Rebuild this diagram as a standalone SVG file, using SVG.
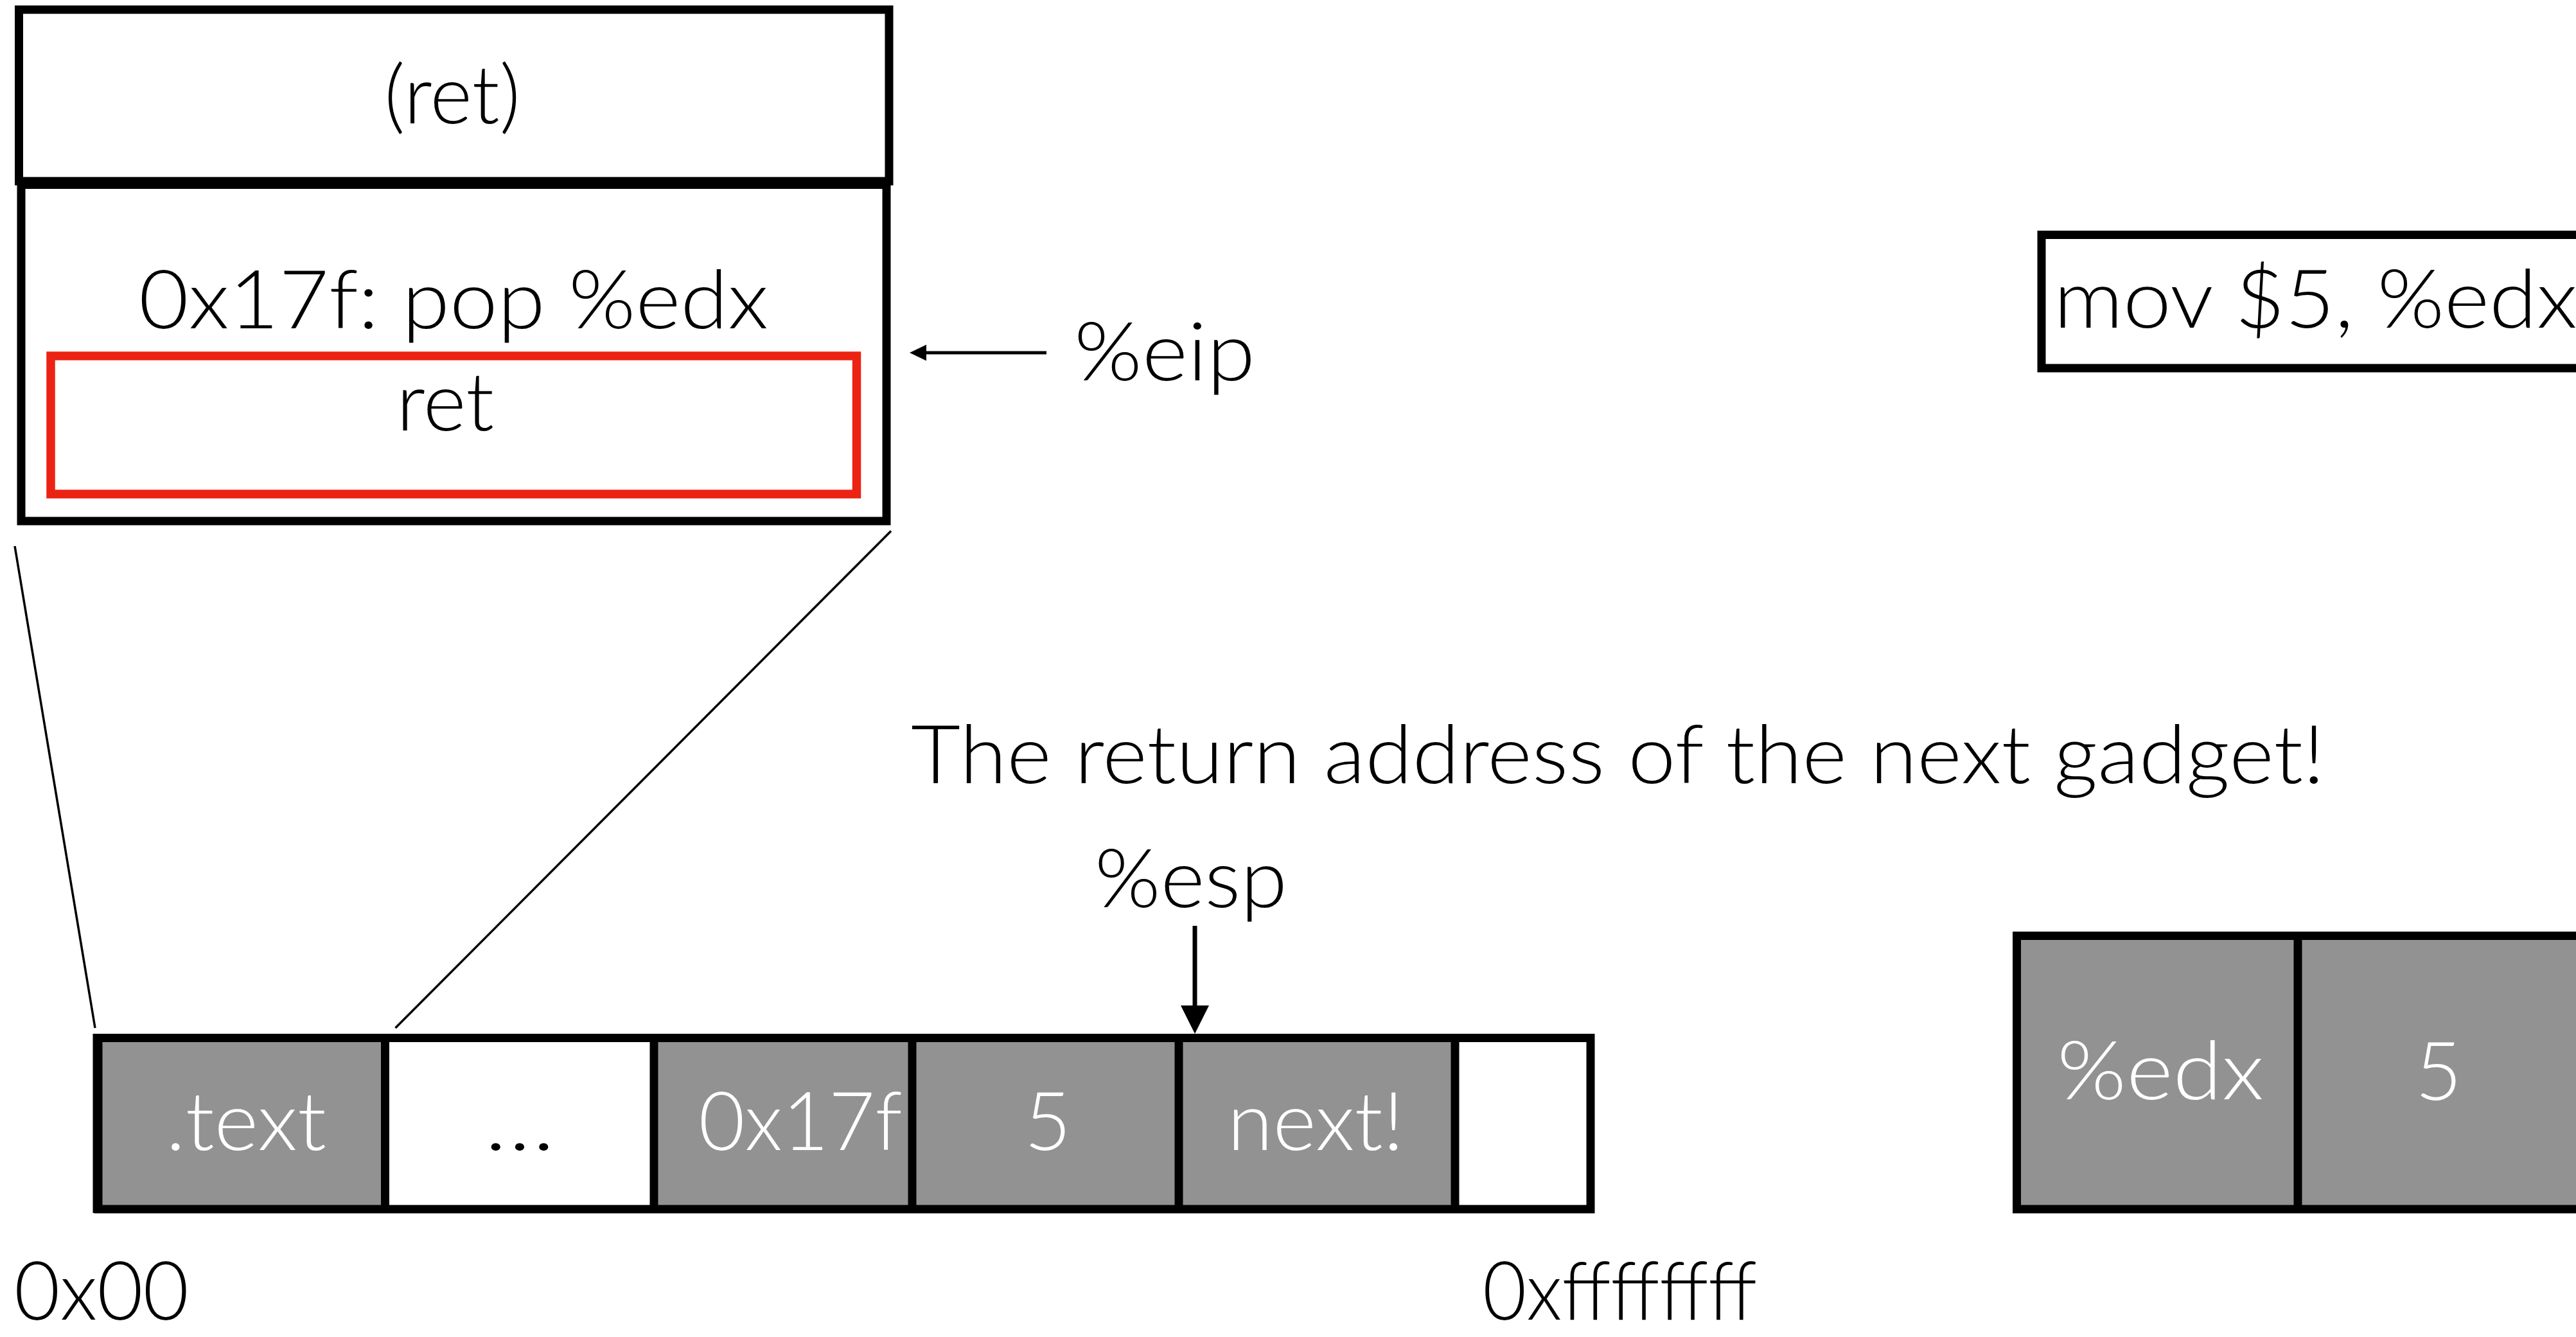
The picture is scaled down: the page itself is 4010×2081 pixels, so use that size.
<svg xmlns="http://www.w3.org/2000/svg" width="4010" height="2081" viewBox="0 0 4010 2081">
<style>
  .t { font-family: "Lato", "Inter", "Open Sans", "Liberation Sans", sans-serif; font-weight: 300; font-size: 126px; fill: #000; }
  .w { fill: #ffffff; }
  .box { fill: #ffffff; stroke: #000; stroke-width: 13; }
  .cell { fill: #929292; stroke: none; }
  .div { stroke: #000; stroke-width: 13; }
  .outline { fill: none; stroke: #000; stroke-width: 13; }
  .zoomline { stroke: #000; stroke-width: 3.5; fill: none; }
</style>
<rect x="0" y="0" width="4010" height="2081" fill="#ffffff"/>

<g id="instr-ret-box">
  <rect class="box" x="29.5" y="15" width="1354.5" height="267" stroke-width="14"/>
  <text class="t" x="704" y="192" text-anchor="middle" textLength="212" lengthAdjust="spacingAndGlyphs">(ret)</text>
</g>

<g id="gadget-box">
  <rect class="box" x="33" y="287.5" width="1347" height="523.5"/>
  <text class="t" x="706" y="511" text-anchor="middle" textLength="980" lengthAdjust="spacingAndGlyphs">0x17f: pop %edx</text>
  <rect x="79" y="554" width="1254.5" height="215" fill="none" stroke="#EC2312" stroke-width="13.5"/>
  <text class="t" x="693" y="670" text-anchor="middle" textLength="152" lengthAdjust="spacingAndGlyphs">ret</text>
</g>

<g id="eip-label">
  <text class="t" x="1672" y="592" textLength="282" lengthAdjust="spacingAndGlyphs">%eip</text>
</g>

<g id="mov-box">
  <rect class="box" x="3178" y="365.5" width="900" height="207.5" stroke-width="11"/>
  <text class="t" x="3197" y="510" textLength="815" lengthAdjust="spacingAndGlyphs">mov $5, %edx</text>
</g>

<g id="note">
  <text class="t" x="1418" y="1219" textLength="2201" lengthAdjust="spacingAndGlyphs">The return address of the next gadget!</text>
</g>

<g id="esp-label">
  <text class="t" x="1704" y="1412" textLength="300" lengthAdjust="spacingAndGlyphs">%esp</text>
</g>

<g id="stack">
  <rect class="cell" x="152" y="1615" width="448" height="267"/>
  <rect x="600" y="1615" width="418" height="267" fill="#ffffff"/>
  <rect class="cell" x="1018" y="1615" width="1247" height="267"/>
  <rect x="2265" y="1615" width="211" height="267" fill="#ffffff"/>
  <line class="div" x1="599.5" y1="1615" x2="599.5" y2="1882"/>
  <line class="div" x1="1018" y1="1615" x2="1018" y2="1882"/>
  <line class="div" x1="1420" y1="1615" x2="1420" y2="1882"/>
  <line class="div" x1="1835" y1="1615" x2="1835" y2="1882"/>
  <line class="div" x1="2265" y1="1615" x2="2265" y2="1882"/>
  <rect class="outline" x="153" y="1615.5" width="2323" height="266.5"/>
  <line class="div" x1="151" y1="1609" x2="151" y2="1888" stroke-width="12"/>
  <text class="t w" x="383" y="1790" text-anchor="middle" textLength="250" lengthAdjust="spacingAndGlyphs">.text</text>
  <text class="t" x="809" y="1790" text-anchor="middle" textLength="110" lengthAdjust="spacingAndGlyphs">…</text>
  <text class="t w" x="1246" y="1790" text-anchor="middle" textLength="317" lengthAdjust="spacingAndGlyphs">0x17f</text>
  <text class="t w" x="1631" y="1790" text-anchor="middle">5</text>
  <text class="t w" x="2048" y="1790" text-anchor="middle" textLength="275" lengthAdjust="spacingAndGlyphs">next!</text>
</g>

<g id="addr-low">
  <text class="t" x="22" y="2054" textLength="272" lengthAdjust="spacingAndGlyphs">0x00</text>
</g>
<g id="addr-high">
  <text class="t" x="2308" y="2054" textLength="427" lengthAdjust="spacingAndGlyphs">0xffffffff</text>
</g>

<g id="register-bar">
  <rect class="cell" x="3139.5" y="1456.5" width="900" height="425.5"/>
  <rect class="outline" x="3139.5" y="1456.5" width="920" height="425.5"/>
  <line class="div" x1="3577" y1="1456.5" x2="3577" y2="1882"/>
  <text class="t w" x="3363" y="1711" text-anchor="middle" textLength="322" lengthAdjust="spacingAndGlyphs">%edx</text>
  <text class="t w" x="3796" y="1712" text-anchor="middle">5</text>
</g>

<g id="connectors">
  <line class="zoomline" x1="23" y1="850" x2="148" y2="1600"/>
  <line class="zoomline" x1="1387" y1="826.5" x2="615.5" y2="1600"/>
  <line x1="1440" y1="549" x2="1629" y2="549" stroke="#000" stroke-width="5"/>
  <polygon points="1416,549 1442,536.5 1442,561.5" fill="#000"/>
  <line x1="1860" y1="1441" x2="1860" y2="1568" stroke="#000" stroke-width="7"/>
  <polygon points="1860,1609 1838,1565 1882,1565" fill="#000"/>
</g>
</svg>
